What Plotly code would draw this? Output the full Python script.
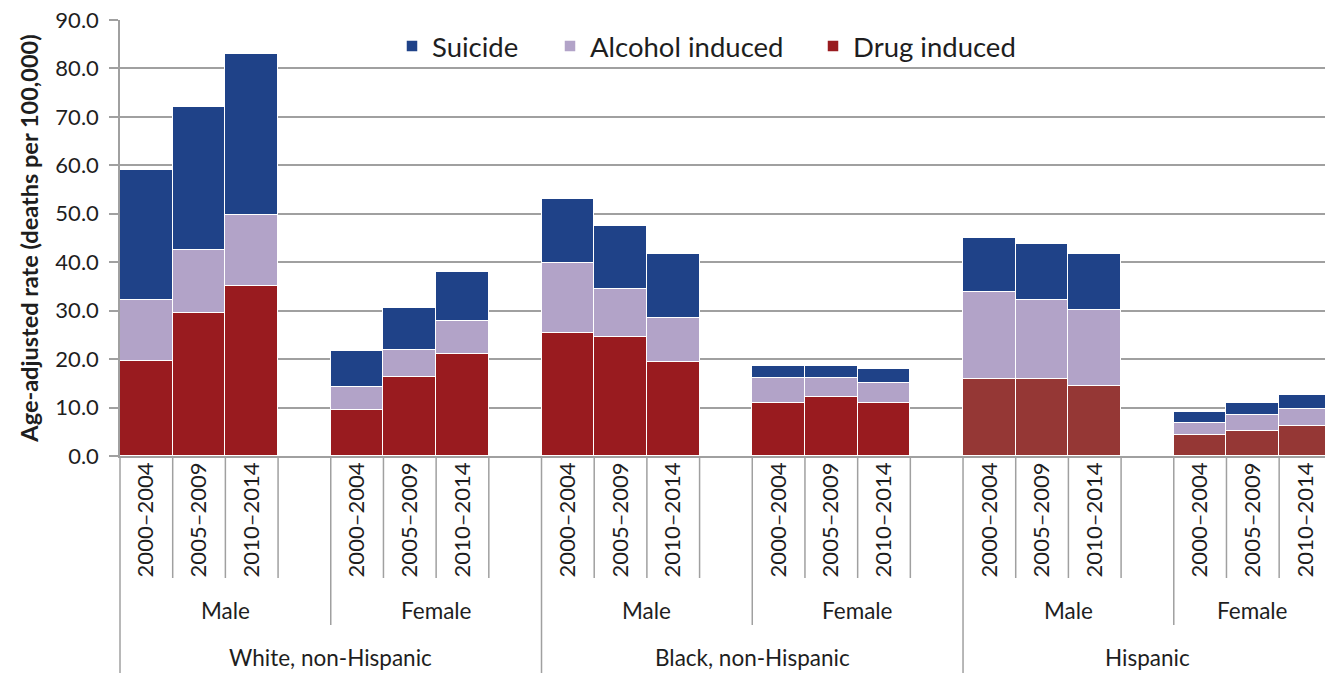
import plotly.graph_objects as go

# ---- data ----
races = ["White, non-Hispanic", "Black, non-Hispanic", "Hispanic"]
sexes = ["Male", "Female"]
periods = ["2000–2004", "2005–2009", "2010–2014"]

drug_induced = [19.6, 29.5, 35.1, 9.4, 16.4, 21.1,
                25.3, 24.6, 19.5, 10.9, 12.2, 10.9,
                15.8, 15.8, 14.5, 4.3, 5.2, 6.2]
alcohol_induced = [12.7, 13.0, 14.7, 4.8, 5.5, 6.8,
                   14.5, 9.9, 9.0, 5.1, 3.8, 4.2,
                   18.1, 16.5, 15.6, 2.6, 3.2, 3.6]
suicide = [26.7, 29.5, 33.1, 7.5, 8.6, 10.1,
           13.2, 13.0, 13.3, 2.6, 2.6, 2.9,
           11.2, 11.5, 11.5, 2.2, 2.6, 2.8]

# ---- layout helpers ----
SLOTS_PER_GROUP = len(periods) + 1          # 3 bars + 1 blank slot
n_groups = len(races) * len(sexes)
n_slots = n_groups * SLOTS_PER_GROUP - 1    # last trailing blank slot absent

xpos, xlabels, race_of_bar = [], [], []
for r_i, race in enumerate(races):
    for s_i, sex in enumerate(sexes):
        g = r_i * len(sexes) + s_i
        for p_i, per in enumerate(periods):
            xpos.append(g * SLOTS_PER_GROUP + p_i)
            xlabels.append(per)
            race_of_bar.append(race)

C_SUI = "#1F4288"
C_ALC = "#B2A3C8"
C_DRUG = "#991B1F"
C_DRUG_HISP = "#953735"
drug_colors = [C_DRUG_HISP if r == "Hispanic" else C_DRUG for r in race_of_bar]

FONT = "Lato"
TXT = "#1e1e1e"
GRID = "#A0A0A0"

W, H = 1325, 673
L, T, B = 120, 20, 217
PW, PH = W - L, H - T - B


def py(pix):  # figure pixel row -> paper y
    return (H - B - pix) / PH


def px(pix):  # figure pixel column -> paper x
    return (pix - L) / PW


fig = go.Figure()
fig.add_trace(go.Bar(x=xpos, y=drug_induced, name="Drug induced", legend="legend3",
                     marker=dict(color=drug_colors, line=dict(color="white", width=1.5))))
fig.add_trace(go.Bar(x=xpos, y=alcohol_induced, name="Alcohol induced", legend="legend2",
                     marker=dict(color=C_ALC, line=dict(color="white", width=1.5))))
fig.add_trace(go.Bar(x=xpos, y=suicide, name="Suicide", legend="legend",
                     marker=dict(color=C_SUI, line=dict(color="white", width=1.5))))

# divider lines below the axis
Y_TICK_END = py(578)
Y_SEX_END = py(625)
Y_RACE_END = py(H)
shapes = []
for k in range(1, n_slots):
    b = k - 0.5
    if k % (2 * SLOTS_PER_GROUP) == 0:
        y1 = Y_RACE_END
    elif k % SLOTS_PER_GROUP == 0:
        y1 = Y_SEX_END
    else:
        y1 = Y_TICK_END
    shapes.append(dict(type="line", xref="x", yref="paper", x0=b, x1=b, y0=0, y1=y1,
                       line=dict(color=GRID, width=1.5)))
shapes.append(dict(type="line", xref="paper", yref="paper", x0=0, x1=0, y0=0, y1=Y_RACE_END,
                   line=dict(color=GRID, width=1.5)))

annotations = []
for r_i, race in enumerate(races):
    for s_i, sex in enumerate(sexes):
        g = r_i * len(sexes) + s_i
        start = g * SLOTS_PER_GROUP - 0.5
        end = min(start + SLOTS_PER_GROUP, n_slots - 0.5)
        annotations.append(dict(x=(start + end) / 2, y=py(610), xref="x", yref="paper",
                                text=sex, showarrow=False, yanchor="middle",
                                font=dict(family=FONT, size=22.5, color=TXT)))
    start = r_i * len(sexes) * SLOTS_PER_GROUP - 0.5
    end = min(start + len(sexes) * SLOTS_PER_GROUP, n_slots - 0.5)
    annotations.append(dict(x=(start + end) / 2, y=py(657), xref="x", yref="paper",
                            text=race, showarrow=False, yanchor="middle",
                            font=dict(family=FONT, size=22.5, color=TXT)))

leg_common = dict(orientation="h", xanchor="left", yanchor="middle", y=py(46),
                  font=dict(family=FONT, size=27.5, color=TXT), bgcolor="rgba(0,0,0,0)")

fig.update_layout(
    width=W, height=H,
    margin=dict(l=L, r=0, t=T, b=B, autoexpand=False),
    paper_bgcolor="white", plot_bgcolor="white",
    barmode="stack", bargap=0,
    font=dict(family=FONT, size=22, color=TXT),
    legend=dict(x=px(432 - 40), **leg_common),
    legend2=dict(x=px(590 - 40), **leg_common),
    legend3=dict(x=px(853 - 40), **leg_common),
    shapes=shapes, annotations=annotations,
    showlegend=True,
)
fig.update_xaxes(range=[-0.5, 22.37], tickmode="array", tickvals=xpos, ticktext=xlabels,
                 tickangle=-90, ticks="", showgrid=False, zeroline=False, automargin=False,
                 showline=True, linecolor=GRID, linewidth=1.5, ticklabelstandoff=-4,
                 tickfont=dict(family=FONT, size=22, color=TXT))
fig.update_yaxes(range=[0, 90], dtick=10, tickformat=".1f", showgrid=True, automargin=False,
                 gridcolor=GRID, gridwidth=1.5, zeroline=False,
                 showline=True, linecolor=GRID, linewidth=1.5,
                 ticks="outside", ticklen=9, tickcolor=GRID, tickwidth=1.5,
                 ticklabelstandoff=6,
                 tickfont=dict(family=FONT, size=22, color=TXT),
                 title=dict(text="<b>Age-adjusted rate (deaths per 100,000)</b>",
                            font=dict(family=FONT, size=23.5, color=TXT), standoff=10))

fig.write_html("out.html", config={"displayModeBar": False},
               post_script="document.body.style.margin='0';"
                           "document.body.style.overflow='hidden';")
